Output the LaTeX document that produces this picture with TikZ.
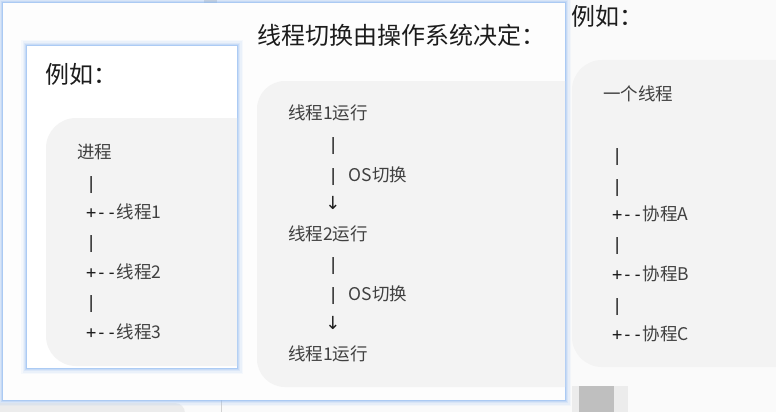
\documentclass[tikz,border=0pt]{standalone}
\usepackage{fontspec}
\setmainfont{Noto Sans CJK SC}
\newfontfamily\mono{DejaVu Sans Mono}
\newfontfamily\arrowfont{DejaVu Sans}
\definecolor{bgc}{HTML}{FAFAFA}
\definecolor{panelc}{HTML}{FDFDFD}
\definecolor{innerc}{HTML}{FFFFFF}
\definecolor{boxc}{HTML}{F3F3F3}
\definecolor{glowc}{HTML}{8DB9F2}
\definecolor{textc}{HTML}{404040}
\definecolor{symc}{HTML}{1E1E1E}
\definecolor{titlec}{HTML}{1C1C1C}
\definecolor{blockc}{HTML}{BFBFBF}
\definecolor{blocklc}{HTML}{ECECEC}
\tikzset{
  txt/.style={anchor=west, inner sep=0pt, text=textc, text height=0.8em, text depth=0.12em,
    yshift=-3.5pt, font=\fontsize{17.5}{20}\selectfont},
  ttl/.style={anchor=west, inner sep=0pt, text=titlec, text height=0.8em, text depth=0.12em,
    yshift=-5pt, font=\fontsize{24}{28}\selectfont},
  arr/.style={anchor=center, inner sep=0pt, text=symc, font=\arrowfont\fontsize{18}{20}\selectfont}
}
\newcommand{\sym}[1]{{\mono\fontsize{17}{20}\selectfont\color{symc}#1}}
\newcommand{\glowrect}[2]{%
  \foreach \w/\o in {12/0.07,9/0.1,6/0.16,4/0.25,2/0.45}{
    \draw[glowc, line width=\w pt, opacity=\o] #1 rectangle #2;
  }
}
\begin{document}
\begin{tikzpicture}[x=1pt,y=-1pt]
\useasboundingbox (0,0) rectangle (776,412);
\fill[bgc] (0,0) rectangle (776,412);

% bottom-left fragments
\fill[blocklc, rounded corners=10pt] (-20,403) rectangle (185,430);
\draw[gray!35, line width=0.8pt] (221,400) -- (221,412);
\fill[gray!30] (204,0) rectangle (217,4);

% outer panel
\glowrect{(3,3)}{(565,400)}
\fill[panelc] (3,3) rectangle (565,400);

% middle box
\begin{scope}
  \clip (3,3) rectangle (565,400);
  \fill[boxc, rounded corners=28pt] (257,81) rectangle (620,387);
\end{scope}
\node[ttl] (mtitle) at (257,36) {线程切换由操作系统决定：};
\node[txt] (m1) at (288,113) {线程1运行};
\node[txt] (m2) at (328,144) {\sym{|}};
\node[txt] (m3) at (328,175) {\sym{| }OS切换};
\node[arr] (m4) at (333,203) {↓};
\node[txt] (m5) at (288,234) {线程2运行};
\node[txt] (m6) at (328,264) {\sym{|}};
\node[txt] (m7) at (328,294) {\sym{| }OS切换};
\node[arr] (m8) at (333,323) {↓};
\node[txt] (m9) at (288,354) {线程1运行};

% inner left panel
\glowrect{(27,46)}{(237,368)}
\fill[innerc] (27,46) rectangle (237,368);
\begin{scope}
  \clip (27,46) rectangle (237,368);
  \fill[boxc, rounded corners=30pt] (46,118) rectangle (300,366);
\end{scope}
\node[ttl] (ltitle) at (45,75) {例如：};
\node[txt] (l1) at (77,152) {进程};
\node[txt] (l2) at (86,183) {\sym{|}};
\node[txt] (l3) at (86,212) {\sym{+--}线程1};
\node[txt] (l4) at (86,242) {\sym{|}};
\node[txt] (l5) at (86,272) {\sym{+--}线程2};
\node[txt] (l6) at (86,302) {\sym{|}};
\node[txt] (l7) at (86,332) {\sym{+--}线程3};

% right part
\fill[boxc, rounded corners=30pt] (572,60) rectangle (830,367);
\node[ttl] (rtitle) at (571,17) {例如：};
\node[txt] (r1) at (603,94) {一个线程};
\node[txt] (r2) at (612,155) {\sym{|}};
\node[txt] (r3) at (612,186) {\sym{|}};
\node[txt] (r4) at (612,214) {\sym{+--}协程A};
\node[txt] (r5) at (612,244) {\sym{|}};
\node[txt] (r6) at (612,274) {\sym{+--}协程B};
\node[txt] (r7) at (612,305) {\sym{|}};
\node[txt] (r8) at (612,334) {\sym{+--}协程C};

% bottom-right block
\fill[blocklc] (572,386) rectangle (628,412);
\fill[blockc] (579,386) rectangle (614,412);
\end{tikzpicture}
\end{document}
